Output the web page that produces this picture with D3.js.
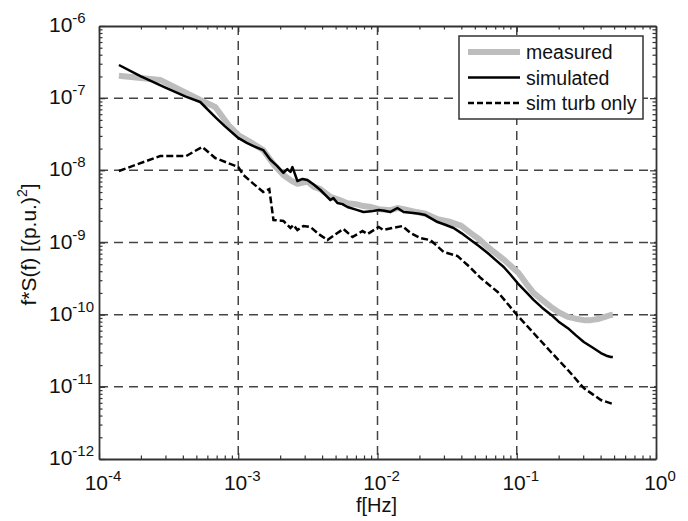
<!DOCTYPE html>
<html>
<head>
<meta charset="utf-8">
<script src="https://cdn.jsdelivr.net/npm/d3@7"></script>
<style>
  body { margin: 0; background: #fff; }
  svg { font-family: "Liberation Sans", Arial, sans-serif; }
</style>
</head>
<body>
<script>
// data
let measuredF = [1.39e-4, 2.75e-4, 5.33e-4, 6.84e-4, 8.5e-4, 1.0e-3, 1.25e-3, 1.51e-3, 1.8e-3, 2.11e-3, 2.4e-3, 2.66e-3, 3.13e-3, 3.5e-3, 3.89e-3, 4.59e-3, 5.3e-3, 6.08e-3, 7.0e-3, 7.93e-3, 9.0e-3, 1.02e-2, 1.24e-2, 1.39e-2, 1.54e-2, 1.81e-2, 2.21e-2, 2.7e-2, 3.35e-2, 4.0e-2, 4.67e-2, 5.4e-2, 6.18e-2, 7.0e-2, 8.06e-2, 0.09, 0.103, 0.117, 0.132, 0.152, 0.176, 0.2, 0.233, 0.265, 0.303, 0.34, 0.383, 0.43, 0.474, 0.49];
let measuredS = [2.05e-7, 1.79e-7, 9.44e-8, 7.55e-8, 4.25e-8, 3.09e-8, 2.4e-8, 1.91e-8, 1.2e-8, 8.6e-9, 7.2e-9, 6.5e-9, 7.0e-9, 5.9e-9, 5.5e-9, 4.3e-9, 3.9e-9, 3.5e-9, 3.4e-9, 3.2e-9, 3.1e-9, 2.9e-9, 2.8e-9, 3.0e-9, 2.9e-9, 2.7e-9, 2.5e-9, 2.1e-9, 1.92e-9, 1.7e-9, 1.35e-9, 1.1e-9, 8.67e-10, 7.2e-10, 5.8e-10, 4.8e-10, 3.78e-10, 2.7e-10, 2.0e-10, 1.6e-10, 1.28e-10, 1.08e-10, 9.3e-11, 8.8e-11, 8.4e-11, 8.4e-11, 8.7e-11, 9.3e-11, 9.9e-11, 1.0e-10];

let simF = [1.39e-4, 2.0e-4, 3.0e-4, 4.2e-4, 5.33e-4, 6.84e-4, 8.0e-4, 1.0e-3, 1.15e-3, 1.3e-3, 1.51e-3, 1.7e-3, 1.9e-3, 2.11e-3, 2.25e-3, 2.37e-3, 2.45e-3, 2.66e-3, 2.9e-3, 3.13e-3, 3.5e-3, 3.89e-3, 4.2e-3, 4.59e-3, 4.82e-3, 5.15e-3, 5.6e-3, 6.08e-3, 7.0e-3, 7.93e-3, 9.0e-3, 1.02e-2, 1.12e-2, 1.24e-2, 1.39e-2, 1.54e-2, 1.81e-2, 2.0e-2, 2.21e-2, 2.7e-2, 3.1e-2, 3.52e-2, 4.0e-2, 4.67e-2, 5.4e-2, 6.18e-2, 7.0e-2, 8.06e-2, 0.09, 0.102, 0.117, 0.132, 0.152, 0.176, 0.2, 0.233, 0.265, 0.303, 0.35, 0.402, 0.44, 0.474, 0.49];
let simS = [2.88e-7, 2.0e-7, 1.4e-7, 1.05e-7, 8.85e-8, 5.48e-8, 4.1e-8, 2.81e-8, 2.4e-8, 2.15e-8, 1.91e-8, 1.4e-8, 1.15e-8, 9.2e-9, 1.04e-8, 9.5e-9, 1.11e-8, 7.11e-9, 7.6e-9, 7.34e-9, 6.3e-9, 5.34e-9, 4.6e-9, 3.88e-9, 4.14e-9, 3.53e-9, 3.4e-9, 3.1e-9, 2.85e-9, 2.65e-9, 2.7e-9, 2.82e-9, 2.75e-9, 2.65e-9, 3.01e-9, 2.65e-9, 2.56e-9, 2.5e-9, 2.4e-9, 1.92e-9, 1.75e-9, 1.59e-9, 1.35e-9, 1.08e-9, 8.8e-10, 7.16e-10, 5.8e-10, 4.58e-10, 3.6e-10, 2.7e-10, 2.05e-10, 1.6e-10, 1.25e-10, 1.0e-10, 8.0e-11, 6.5e-11, 5.2e-11, 4.18e-11, 3.5e-11, 2.94e-11, 2.7e-11, 2.59e-11, 2.59e-11];

let turbF = [1.39e-4, 2.75e-4, 4.23e-4, 5.51e-4, 6.84e-4, 1.0e-3, 1.09e-3, 1.3e-3, 1.51e-3, 1.67e-3, 1.79e-3, 2.11e-3, 2.37e-3, 2.49e-3, 2.66e-3, 2.94e-3, 3.3e-3, 3.8e-3, 4.37e-3, 5.0e-3, 5.69e-3, 6.61e-3, 7.8e-3, 8.47e-3, 1.02e-2, 1.1e-2, 1.3e-2, 1.51e-2, 1.73e-2, 2.04e-2, 2.4e-2, 2.99e-2, 3.76e-2, 4.67e-2, 5.51e-2, 7.3e-2, 0.1, 0.132, 0.176, 0.233, 0.303, 0.402, 0.49];
let turbS = [9.8e-9, 1.58e-8, 1.58e-8, 2.11e-8, 1.48e-8, 1.11e-8, 8.6e-9, 6.4e-9, 5.01e-9, 5.51e-9, 2.05e-9, 1.99e-9, 1.59e-9, 1.75e-9, 1.49e-9, 1.69e-9, 1.64e-9, 1.3e-9, 1.08e-9, 1.3e-9, 1.54e-9, 1.19e-9, 1.44e-9, 1.31e-9, 1.64e-9, 1.49e-9, 1.6e-9, 1.69e-9, 1.35e-9, 1.15e-9, 1.08e-9, 7.38e-10, 6.5e-10, 4.44e-10, 3.22e-10, 2.06e-10, 1.0e-10, 5.57e-11, 3.04e-11, 1.71e-11, 9.6e-12, 6.57e-12, 5.78e-12];

let xDecades = [-4, -3, -2, -1, 0];
let yDecades = [-12, -11, -10, -9, -8, -7, -6];
let legendNames = ['measured', 'simulated', 'sim turb only'];

let frame = { width: 688, height: 521 };
let padding = { left: 99, top: 26, right: 32, bottom: 62 };
let w = frame.width - padding.left - padding.right;
let h = frame.height - padding.top - padding.bottom;

let svg = d3.select('body')
	.append('svg')
	.attr('width', frame.width)
	.attr('height', frame.height);

let g = svg.append('g')
	.attr('transform', `translate(${padding.left}, ${padding.top})`);

let xScale = d3.scaleLog().domain([1e-4, 1]).range([0, w]);
let yScale = d3.scaleLog().domain([1e-12, 1e-6]).range([h, 0]);

let xMajor = xDecades.map(e => Math.pow(10, e));
let yMajor = yDecades.map(e => Math.pow(10, e));
let minorOf = decs => {
	let out = [];
	decs.slice(0, -1).forEach(e => {
		for (let k = 2; k <= 9; k++) out.push(k * Math.pow(10, e));
	});
	return out;
};
let xMinor = minorOf(xDecades);
let yMinor = minorOf(yDecades);

// grid
let gridColor = '#444';
g.selectAll('.vgrid')
	.data(xMajor.slice(1, -1))
	.enter()
	.append('line')
	.attr('x1', d => xScale(d)).attr('x2', d => xScale(d))
	.attr('y1', 0).attr('y2', h)
	.attr('stroke', gridColor)
	.attr('stroke-width', 1.5)
	.attr('stroke-dasharray', '9,6');

g.selectAll('.hgrid')
	.data(yMajor.slice(1, -1))
	.enter()
	.append('line')
	.attr('x1', 0).attr('x2', w)
	.attr('y1', d => yScale(d)).attr('y2', d => yScale(d))
	.attr('stroke', gridColor)
	.attr('stroke-width', 1.5)
	.attr('stroke-dasharray', '9,6');

// lines
let line = d3.line()
	.x(d => xScale(d[0]))
	.y(d => yScale(d[1]));

g.append('path')
	.datum(d3.zip(measuredF, measuredS))
	.attr('d', line)
	.attr('fill', 'none')
	.attr('stroke', '#bdbdbd')
	.attr('stroke-width', 6)
	.attr('stroke-linejoin', 'round');

g.append('path')
	.datum(d3.zip(simF, simS))
	.attr('d', line)
	.attr('fill', 'none')
	.attr('stroke', '#000')
	.attr('stroke-width', 2.5)
	.attr('stroke-linejoin', 'round');

g.append('path')
	.datum(d3.zip(turbF, turbS))
	.attr('d', line)
	.attr('fill', 'none')
	.attr('stroke', '#000')
	.attr('stroke-width', 2.5)
	.attr('stroke-dasharray', '7,3');

// axes: ticks drawn inward on all four sides
let axisColor = '#333';
let sides = [
	{ axis: d3.axisBottom, scale: xScale, tr: `translate(0, ${h})`, major: xMajor, minor: xMinor },
	{ axis: d3.axisTop, scale: xScale, tr: 'translate(0, 0)', major: xMajor, minor: xMinor },
	{ axis: d3.axisLeft, scale: yScale, tr: 'translate(0, 0)', major: yMajor, minor: yMinor },
	{ axis: d3.axisRight, scale: yScale, tr: `translate(${w}, 0)`, major: yMajor, minor: yMinor }
];
sides.forEach(s => {
	g.append('g')
		.attr('transform', s.tr)
		.call(s.axis(s.scale).tickValues(s.minor).tickSize(-3.5).tickFormat('').tickSizeOuter(0))
		.call(a => a.select('.domain').remove())
		.call(a => a.selectAll('line').attr('stroke', axisColor).attr('stroke-width', 1.2));
	g.append('g')
		.attr('transform', s.tr)
		.call(s.axis(s.scale).tickValues(s.major).tickSize(-6).tickFormat('').tickSizeOuter(0))
		.call(a => a.select('.domain').attr('stroke', axisColor).attr('stroke-width', 1.8))
		.call(a => a.selectAll('line').attr('stroke', axisColor).attr('stroke-width', 1.2));
});

// tick labels with superscript exponents
let xLab = g.selectAll('.xlab')
	.data(xDecades)
	.enter()
	.append('text')
	.attr('x', d => xScale(Math.pow(10, d)) + 4)
	.attr('y', h + 31)
	.attr('text-anchor', 'middle')
	.attr('font-size', 21)
	.attr('fill', '#111');
xLab.append('tspan').text('10');
xLab.append('tspan').attr('dy', -9).attr('font-size', 15).text(d => `${d}`);

let yLab = g.selectAll('.ylab')
	.data(yDecades)
	.enter()
	.append('text')
	.attr('x', -50)
	.attr('y', d => yScale(Math.pow(10, d)) + 6)
	.attr('text-anchor', 'start')
	.attr('font-size', 21)
	.attr('fill', '#111');
yLab.append('tspan').text('10');
yLab.append('tspan').attr('dy', -9).attr('font-size', 15).text(d => `${d}`);

// axis labels
svg.append('text')
	.attr('x', padding.left + xScale(1e-2) - 1)
	.attr('y', 512)
	.attr('text-anchor', 'middle')
	.attr('font-size', 20)
	.attr('fill', '#111')
	.text('f[Hz]');

let yTitle = svg.append('text')
	.attr('transform', `translate(36, ${padding.top + h / 2 + 2}) rotate(-90)`)
	.attr('text-anchor', 'middle')
	.attr('font-size', 21)
	.attr('fill', '#111');
yTitle.append('tspan').text('f*S(f) [(p.u.)');
yTitle.append('tspan').attr('dy', -9).attr('font-size', 14).text('2');
yTitle.append('tspan').attr('dy', 9).text(']');

// legend
let legend = svg.append('g').attr('transform', 'translate(459, 36)');
legend.append('rect')
	.attr('width', 184).attr('height', 83)
	.attr('fill', '#fff')
	.attr('stroke', '#333')
	.attr('stroke-width', 1.5);
let legendStyle = [
	{ stroke: '#bdbdbd', width: 6, dash: null },
	{ stroke: '#000', width: 2.5, dash: null },
	{ stroke: '#000', width: 2.5, dash: '6,3' }
];
legendNames.forEach((name, i) => {
	let yy = 16 + i * 25.5;
	legend.append('line')
		.attr('x1', 9).attr('x2', 61)
		.attr('y1', yy).attr('y2', yy)
		.attr('stroke', legendStyle[i].stroke)
		.attr('stroke-width', legendStyle[i].width)
		.attr('stroke-dasharray', legendStyle[i].dash);
	legend.append('text')
		.attr('x', 67)
		.attr('y', yy + 7)
		.attr('font-size', 19.5)
		.attr('fill', '#111')
		.text(name);
});
</script>
</body>
</html>
